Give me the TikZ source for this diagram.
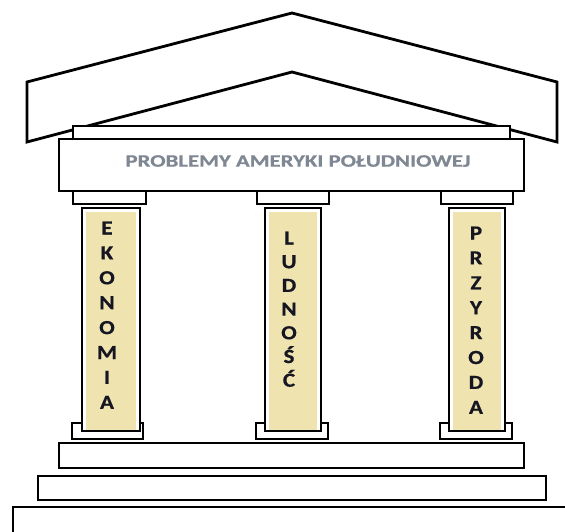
\documentclass[tikz,border=0pt]{standalone}
\usepackage{graphicx}
\usepackage{fontspec}
\setmainfont{Carlito}
\definecolor{colyellow}{HTML}{EFE3AF}
\definecolor{headgray}{HTML}{7E8792}
\definecolor{lettercol}{HTML}{161622}
\newcommand{\widen}[1]{\scalebox{1.15}[1]{#1}}
\begin{document}
\begin{tikzpicture}[x=1pt,y=-1pt,
  part/.style={draw=black,fill=white,line width=2.4pt,line join=miter},
  colbox/.style={draw=black,fill=white,line width=2.8pt},
  letter/.style={inner sep=0pt,text height=13pt,text depth=0pt,
     font=\fontsize{20}{22}\selectfont\bfseries\addfontfeatures{FakeBold=0.6},text=lettercol},
  headtext/.style={inner sep=0pt,font=\fontsize{17.5}{20}\selectfont\bfseries\addfontfeatures{FakeBold=0.6},text=headgray}]
\useasboundingbox (0,0) rectangle (565,532);
\clip (0,0) rectangle (565,532);
% roof
\draw[part,line width=2.8pt] (27,82) -- (292,13) -- (557,82) -- (557,142) -- (292,72) -- (27,142) -- cycle;
% entablature
\draw[part] (73,126) rectangle (510,139);
\draw[part] (59,139) rectangle (524,191);
\node[headtext] (title) at (298,161) {\scalebox{1.3}[1]{PROBLEMY AMERYKI POŁUDNIOWEJ}};
% capitals
\draw[part] (73,191) rectangle (146,204);
\draw[part] (257,191) rectangle (329,204);
\draw[part] (441,191) rectangle (513,204);
% bases
\draw[part] (72,423) rectangle (143,439);
\draw[part] (256,423) rectangle (328,439);
\draw[part] (440,423) rectangle (512,439);
% columns
\foreach \xa/\xb in {82/140,265/321,449/505}{
  \draw[colbox] (\xa,208) rectangle (\xb,431);
  \fill[colyellow] (\xa+4,212) rectangle (\xb-4,429.5);
}
% steps
\draw[part] (59,443) rectangle (524,468);
\draw[part] (38,476) rectangle (546,500);
\draw[part] (13,507) rectangle (590,550);
% letters
\foreach \c [count=\i] in {E,K,O,N,O,M,I,A}
  \node[letter] (eko\i) at (107,{228+24.9*(\i-1)}) {\widen{\c}};
\foreach \c [count=\i] in {L,U,D,N,O,Ś,Ć}
  \node[letter] (lud\i) at (289,{238+23.7*(\i-1)}) {\widen{\c}};
\foreach \c [count=\i] in {P,R,Z,Y,R,O,D,A}
  \node[letter] (prz\i) at (476,{233+24.9*(\i-1)}) {\widen{\c}};
\end{tikzpicture}
\end{document}
